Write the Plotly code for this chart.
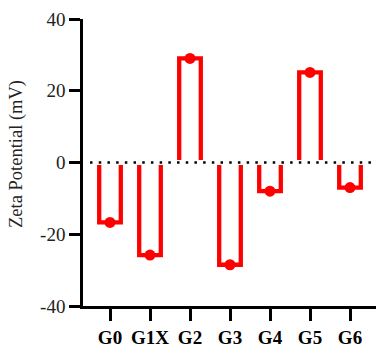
import plotly.graph_objects as go

categories = ["G0", "G1X", "G2", "G3", "G4", "G5", "G6"]
zeta_mv = [-16.7, -25.8, 29.0, -28.5, -8.0, 25.1, -7.0]
y_ticks = [-40, -20, 0, 20, 40]
y_tick_labels = ["-40", "-20", "0", "20", "40"]

RED = "#ff0000"
SERIF = "Liberation Serif, Times New Roman, serif"

fig = go.Figure()
fig.add_trace(go.Bar(
    x=categories, y=zeta_mv, width=0.54,
    marker=dict(color="rgba(0,0,0,0)", line=dict(color=RED, width=4.3)),
    showlegend=False, hoverinfo="skip",
))
fig.add_trace(go.Scatter(
    x=categories, y=zeta_mv, mode="markers",
    marker=dict(color=RED, size=11, line=dict(width=0)),
    showlegend=False, cliponaxis=False,
))

# hide bar baseline, then dotted zero line
fig.add_shape(type="line", xref="paper", yref="y", x0=0.02, x1=1, y0=0, y1=0,
              line=dict(color="white", width=5), layer="above")
fig.add_shape(type="line", xref="paper", yref="y", x0=0.024, x1=1, y0=0, y1=0,
              line=dict(color="black", width=2.5, dash="2.5px,6.2px"), layer="above")

fig.add_annotation(text="Zeta Potential (mV)", textangle=-90,
                   xref="paper", yref="paper", x=-0.225, y=0.53,
                   xanchor="center", yanchor="middle", showarrow=False,
                   font=dict(family=SERIF, size=18.5, color="#222"))

fig.update_layout(
    width=376, height=348,
    margin=dict(l=83, r=0, t=19, b=36),
    paper_bgcolor="white", plot_bgcolor="white",
    bargap=0.4,
)
fig.update_xaxes(
    type="category", range=[-0.675, 6.65],
    showline=True, linecolor="black", linewidth=2.5,
    ticks="outside", ticklen=12, tickwidth=2.5, tickcolor="black",
    tickfont=dict(family=SERIF, size=19, color="black", weight="bold"),
    showgrid=False, zeroline=False,
)
fig.update_yaxes(
    range=[-40, 40], tickvals=y_ticks, ticktext=y_tick_labels,
    showline=True, linecolor="black", linewidth=2.5,
    ticks="outside", ticklen=11, tickwidth=2.5, tickcolor="black",
    tickfont=dict(family=SERIF, size=19, color="#222"),
    showgrid=False, zeroline=False,
)

fig.write_html("out.html")
